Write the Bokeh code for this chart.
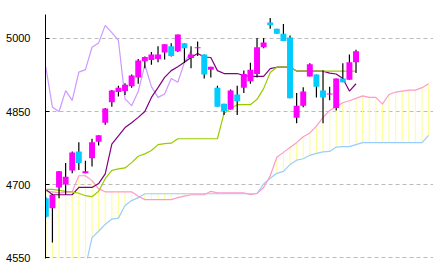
from bokeh.plotting import figure
from bokeh.models import Range1d, FixedTicker, ColumnDataSource
from bokeh.embed import file_html
from bokeh.resources import INLINE

# --- candle data (bar 0..47) ---
opens = [4672, 4651, 4694, 4700, 4729, 4768, 4723, 4754, 4788, 4827,
         4869, 4890, 4892, 4902, 4920, 4953, 4956, 4958, 4971, 4984,
         4974, 4990, 4960, 4980, 4967, 4936, 4899, 4866, 4854, 4885,
         4899, 4912, 4927, 4982, 5033, 5020, 5010, 5002, 4837, 4862,
         4922, 4926, 4893, 4885, 4857, 4918, 4915, 4951]
highs = [4674, 4681, 4728, 4744, 4768, 4787, 4749, 4794, 4801, 4857,
         4894, 4903, 4908, 4926, 4958, 4963, 4972, 4984, 4988, 4990,
         5008, 4990, 4984, 4994, 4967, 4942, 4903, 4866, 4895, 4903,
         4934, 4950, 5001, 5001, 5042, 5020, 5030, 5006, 4888, 4900,
         4949, 4926, 4934, 4901, 4918, 4949, 4967, 4977]
lows = [4632, 4581, 4672, 4679, 4723, 4730, 4723, 4737, 4780, 4823,
        4860, 4881, 4884, 4899, 4907, 4939, 4946, 4951, 4957, 4963,
        4972, 4950, 4939, 4964, 4918, 4920, 4860, 4843, 4854, 4843,
        4888, 4907, 4920, 4980, 5020, 5010, 4995, 4877, 4826, 4859,
        4922, 4879, 4826, 4873, 4852, 4910, 4915, 4929]
closes = [4634, 4679, 4727, 4716, 4766, 4744, 4727, 4787, 4801, 4856,
          4893, 4899, 4905, 4924, 4955, 4962, 4967, 4967, 4988, 4964,
          5008, 4980, 4967, 4982, 4926, 4942, 4860, 4851, 4893, 4871,
          4927, 4936, 4982, 4992, 5027, 5010, 4995, 4877, 4862, 4891,
          4947, 4901, 4879, 4887, 4918, 4910, 4951, 4974]

# --- ichimoku lines ---
tenkan = [4690, 4679, 4679, 4679, 4679, 4694, 4694, 4694, 4702, 4722,
          4783, 4800, 4817, 4827, 4838, 4850, 4879, 4899, 4920, 4934,
          4942, 4951, 4961, 4969, 4962, 4961, 4934, 4928, 4928, 4928,
          4924, 4922, 4922, 4922, 4938, 4941, 4941, 4941, 4933, 4933,
          4933, 4933, 4933, 4929, 4927, 4918, 4892, 4907]
kijun = [4690, 4690, 4688, 4686, 4685, 4682, 4677, 4675, 4686, 4712,
         4729, 4732, 4734, 4745, 4758, 4763, 4770, 4782, 4784, 4785,
         4794, 4794, 4794, 4794, 4794, 4794, 4794, 4846, 4856, 4864,
         4864, 4864, 4875, 4897, 4930, 4941, 4941, 4941, 4933, 4933,
         4933, 4933, 4933, 4933, 4933, 4933, 4933, 4933]
chikou = [4941, 4859, 4850, 4893, 4873, 4931, 4936, 4982, 4991, 5027,
          5012, 4996, 4876, 4862, 4891, 4946, 4901, 4879, 4886, 4918,
          4910, 4951, 4974]
span_a = [4686, 4685, 4683, 4684, 4685, 4718, 4718, 4708, 4691, 4685,
          4685, 4685, 4685, 4685, 4676, 4669, 4669, 4669, 4669, 4669,
          4673, 4676, 4679, 4679, 4679, 4686, 4683, 4683, 4683, 4683,
          4683, 4679, 4682, 4694, 4718, 4756, 4766, 4776, 4786, 4798,
          4806, 4820, 4838, 4852, 4860, 4868, 4872, 4877, 4882, 4879,
          4879, 4865, 4885, 4890, 4892, 4894, 4894, 4899, 4907]
span_b = [4500, 4505, 4510, 4515, 4520, 4525, 4530, 4591, 4604, 4618,
          4629, 4631, 4657, 4667, 4673, 4681, 4681, 4681, 4681, 4681,
          4681, 4681, 4681, 4681, 4681, 4681, 4681, 4681, 4681, 4681,
          4681, 4681, 4681, 4701, 4713, 4723, 4727, 4741, 4750, 4753,
          4760, 4764, 4767, 4768, 4777, 4778, 4778, 4782, 4786, 4786,
          4786, 4786, 4786, 4786, 4786, 4786, 4786, 4786, 4801]
y_ticks = [4550, 4700, 4850, 5000]

UP = "#FF00FF"
DOWN = "#00CCFF"

n = len(closes)
bars = list(range(n))
cloud_x = list(range(len(span_a)))
chikou_x = list(range(len(chikou)))

candles = ColumnDataSource(dict(
    x=bars, high=highs, low=lows,
    top=[max(o, c) for o, c in zip(opens, closes)],
    bottom=[min(o, c) for o, c in zip(opens, closes)],
    color=[UP if c >= o else DOWN for o, c in zip(opens, closes)],
))

p = figure(width=433, height=271, output_backend="svg", toolbar_location=None,
           x_range=Range1d(-0.05, 58.74), y_range=Range1d(4548, 5049.3),
           min_border_left=45, min_border_right=0, min_border_top=14,
           min_border_bottom=13, x_axis_location=None)
p.background_fill_color = "white"
p.border_fill_color = "white"
p.outline_line_color = None

ax = p.yaxis[0]
ax.ticker = FixedTicker(ticks=y_ticks)
ax.major_tick_in = 4
ax.major_tick_out = 0
ax.minor_tick_line_color = None
ax.major_tick_line_color = "black"
ax.axis_line_color = "black"
ax.major_label_standoff = 15
ax.major_label_text_font = "Liberation Sans"
ax.major_label_text_font_size = "11px"
ax.major_label_text_color = "black"

p.xgrid.visible = False
p.ygrid.ticker = FixedTicker(ticks=y_ticks)
p.ygrid.grid_line_color = "#BBBBBB"
p.ygrid.grid_line_dash = "4 3"

LW = 1.2
# cloud fill as vertical lines
p.segment(x0=cloud_x, y0=span_a, x1=cloud_x, y1=span_b, line_color="#FFFF99", line_width=LW)
p.line(cloud_x, span_b, line_color="#99CCFF", line_width=LW)
p.line(cloud_x, span_a, line_color="#FF99CC", line_width=LW)
p.line(chikou_x, chikou, line_color="#CC99FF", line_width=LW)
p.line(bars, tenkan, line_color="#800080", line_width=LW)
p.line(bars, kijun, line_color="#99CC00", line_width=LW)

p.segment(x0="x", y0="low", x1="x", y1="high", source=candles, line_color="black", line_width=LW)
p.vbar(x="x", width=0.9, top="top", bottom="bottom", source=candles,
       fill_color="color", line_color=None)

open("out.html", "w").write(file_html(p, INLINE))
